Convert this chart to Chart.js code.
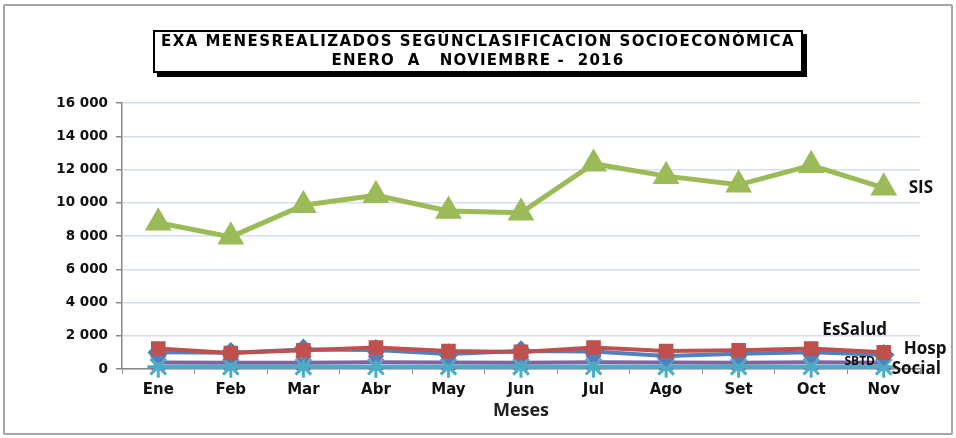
<!DOCTYPE html>
<html>
<head>
<meta charset="utf-8">
<script src="https://cdn.jsdelivr.net/npm/chart.js@4"></script>
<style>
    body { margin: 0; background: #fff; }
    #wrap { position: relative; width: 956px; height: 438px; }
    #frame {
        position: absolute; left: 3px; top: 4px; width: 946px; height: 427px;
        border: 2px solid #a6a6a6; border-radius: 2px; pointer-events: none;
    }
    #titleBox {
        position: absolute; left: 153px; top: 30px; width: 646px; height: 39px;
        border: 2px solid #000; background: #fff; box-shadow: 4px 4px 0 #000;
        font-family: "DejaVu Sans", sans-serif; font-weight: bold; font-size: 15px;
        text-align: center; line-height: 19px; color: #000; white-space: nowrap;
    }
</style>
</head>
<body>
<div id="wrap">
    <canvas id="chart" width="956" height="438"></canvas>
    <div id="frame"></div>
    <div id="titleBox">
        <div style="letter-spacing:1.45px">EXA MENESREALIZADOS SEGÚNCLASIFICACION SOCIOECONÓMICA</div>
        <div style="letter-spacing:1.2px">ENERO&nbsp; A&nbsp;&nbsp; NOVIEMBRE -&nbsp; 2016</div>
    </div>
</div>
<script>
const meses = ["Ene", "Feb", "Mar", "Abr", "May", "Jun", "Jul", "Ago", "Set", "Oct", "Nov"];

const sis     = [8800, 7950, 9850, 10450, 9500, 9400, 12350, 11600, 11080, 12250, 10900];
const hosp    = [1230, 960, 1130, 1290, 1080, 1030, 1290, 1080, 1130, 1230, 1010];
const esSalud = [1000, 980, 1180, 1150, 900, 1080, 1050, 780, 920, 1000, 850];
const sbtd    = [390, 380, 380, 400, 390, 380, 410, 390, 380, 400, 380];
const social  = [140, 130, 130, 140, 130, 130, 140, 130, 130, 140, 130];

const yTicks = [0, 2000, 4000, 6000, 8000, 10000, 12000, 14000, 16000];

// labels next to the last point of each series
const endLabels = {
    id: "endLabels",
    afterDatasetsDraw(chart) {
        const ctx = chart.ctx;
        chart.data.datasets.forEach((ds, i) => {
            const lab = ds.endLabel;
            if (!lab) return;
            const pt = chart.getDatasetMeta(i).data[ds.data.length - 1];
            ctx.save();
            ctx.font = "bold " + lab.size + "px 'Open Sans', sans-serif";
            ctx.fillStyle = "#111";
            ctx.textAlign = lab.align;
            ctx.textBaseline = "middle";
            ctx.fillText(ds.label, pt.x + lab.dx, pt.y + lab.dy);
            ctx.restore();
        });
    }
};

const fmt = v => v.toLocaleString("en-US").replace(/,/g, " ");

new Chart(document.getElementById("chart"), {
    type: "line",
    data: {
        labels: meses,
        datasets: [
            {
                label: "SIS", data: sis, borderColor: "#9bbb59", backgroundColor: "#9bbb59",
                borderWidth: 5, pointStyle: "triangle", pointRadius: 10.5, order: 1,
                endLabel: { dx: 25, dy: 0, align: "left", size: 17 }
            },
            {
                label: "Hosp", data: hosp, borderColor: "#c0504d", backgroundColor: "#c0504d",
                borderWidth: 4, pointStyle: "rect", pointRadius: 7.5, order: 2,
                endLabel: { dx: 20, dy: -3, align: "left", size: 17 }
            },
            {
                label: "EsSalud", data: esSalud, borderColor: "#4f81bd", backgroundColor: "#4f81bd",
                borderWidth: 4, pointStyle: "rectRot", pointRadius: 8, order: 3,
                endLabel: { dx: -29, dy: -25, align: "center", size: 17 }
            },
            {
                label: "SBTD", data: sbtd, borderColor: "#8064a2", backgroundColor: "#8064a2",
                borderWidth: 4, pointStyle: "crossRot", pointRadius: 10, pointBorderWidth: 3,
                order: 5, clip: false,
                endLabel: { dx: -24, dy: -1, align: "center", size: 12 }
            },
            {
                label: "Social", data: social, borderColor: "#4bacc6", backgroundColor: "#4bacc6",
                borderWidth: 4, pointStyle: "star", pointRadius: 11, pointBorderWidth: 3,
                order: 4, clip: false,
                endLabel: { dx: 8, dy: 2, align: "left", size: 17 }
            }
        ]
    },
    options: {
        responsive: false,
        animation: false,
        layout: { padding: { top: 103, right: 36, left: 0, bottom: 0 } },
        plugins: { legend: { display: false }, tooltip: { enabled: false } },
        scales: {
            x: {
                offset: true,
                afterFit: s => { s.height = 69; },
                border: { color: "#888", width: 1.5 },
                grid: { offset: true, drawOnChartArea: false, tickLength: 5, color: "#888" },
                ticks: { padding: 7, color: "#111", font: { family: "'DejaVu Sans', sans-serif", weight: "bold", size: 15 } },
                title: {
                    display: true, text: "Meses", color: "#222",
                    font: { family: "'Open Sans', sans-serif", weight: "bold", size: 18 },
                    padding: { top: 0, bottom: 16 }
                }
            },
            y: {
                min: 0, max: 16000,
                afterFit: s => { s.width = 122; },
                afterBuildTicks: s => { s.ticks = yTicks.map(v => ({ value: v })); },
                border: { color: "#888", width: 1.5 },
                grid: { color: "#d5deee", lineWidth: 1.5, tickLength: 6, tickColor: "#888" },
                ticks: {
                    padding: 8, color: "#111", callback: v => fmt(v),
                    font: { family: "'DejaVu Sans', sans-serif", weight: "bold", size: 13.5 }
                }
            }
        }
    },
    plugins: [endLabels]
});
</script>
</body>
</html>
